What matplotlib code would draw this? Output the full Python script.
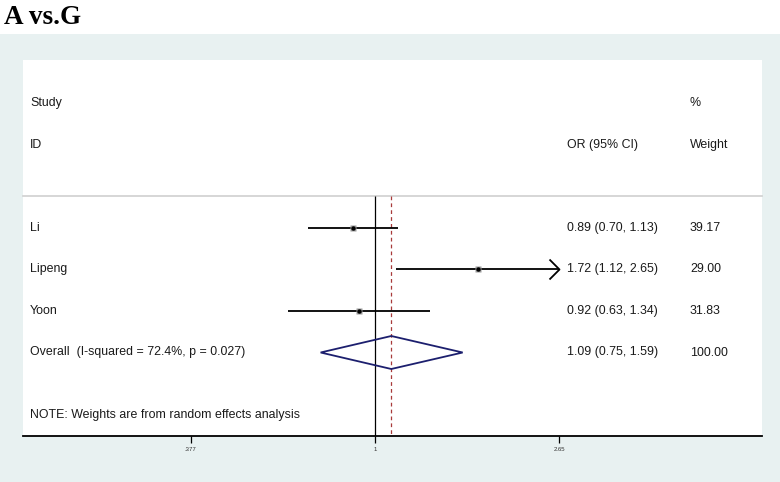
import numpy as np
import matplotlib
matplotlib.use("Agg")
import matplotlib.pyplot as plt
from matplotlib.patches import Polygon, Rectangle
from matplotlib.path import Path
import matplotlib.transforms as mtransforms

# ---------------- data ----------------
studies = ["Li", "Lipeng", "Yoon"]
or_est = [0.89, 1.72, 0.92]
ci_low = [0.70, 1.12, 0.63]
ci_high = [1.13, 2.65, 1.34]
weights = ["39.17", "29.00", "31.83"]
overall_est = 1.09
overall_low = 0.75
overall_high = 1.59
overall_label = "Overall  (I-squared = 72.4%, p = 0.027)"
overall_weight = "100.00"
tick_values = [0.377, 1, 2.65]
tick_labels = [".377", "1", "2.65"]
title = "A vs.G"

# ---------------- figure ----------------
W, H = 780, 482
fig = plt.figure(figsize=(W / 100, H / 100), dpi=100)
fig.patch.set_facecolor("white")
bg = Rectangle((0, 0), 1, (H - 34) / H, transform=fig.transFigure,
               facecolor="#e8f1f1", edgecolor="none", zorder=-10)
fig.patches.append(bg)

fig.text(4 / W, 1 - 23.5 / H, title, fontsize=19.5, fontweight="bold",
         family="Liberation Serif", va="baseline", ha="left")

left, right, top, bottom = 23, 762, 60, 436
ax = fig.add_axes([left / W, (H - bottom) / H, (right - left) / W, (bottom - top) / H])
ax.set_zorder(1)
ax.set_facecolor("white")
ax.set_xscale("log")
px_per_ln = (559.3 - 190.7) / (np.log(2.65) - np.log(0.377))
ax.set_xlim(np.exp((left - 375) / px_per_ln), np.exp((right - 375) / px_per_ln))
row_px = 41.5
y0 = 228
ax.set_ylim((bottom - y0) / row_px, (top - y0) / row_px)
for s in ["top", "left", "right"]:
    ax.spines[s].set_visible(False)
ax.spines["bottom"].set_linewidth(1.3)
ax.set_yticks([])
ax.set_xticks(tick_values)
ax.set_xticklabels(tick_labels)
ax.xaxis.set_minor_locator(matplotlib.ticker.NullLocator())
ax.tick_params(axis="x", length=5, width=0.9, labelsize=4.3, pad=3, colors="black")
for lab in ax.get_xticklabels():
    lab.set_family("Liberation Sans")
    lab.set_color("#333333")

font = dict(family="Liberation Sans", fontsize=8.9, color="#1a1a1a")
tr = mtransforms.blended_transform_factory(ax.transAxes, ax.transData)
xl, xc, xw = (30 - left) / (right - left), (567 - left) / (right - left), (690 - left) / (right - left)

sep_y = (196 - y0) / row_px
ymax = ax.get_ylim()[0]
# header
ax.text(xl, -3, "Study", transform=tr, va="center", ha="left", **font)
ax.text(xl, -2, "ID", transform=tr, va="center", ha="left", **font)
ax.text(xc, -2, "OR (95% CI)", transform=tr, va="center", ha="left", **font)
ax.text(xw, -3, "%", transform=tr, va="center", ha="left", **font)
ax.text(xw, -2, "Weight", transform=tr, va="center", ha="left", **font)
ax.plot([0, 1], [sep_y, sep_y], transform=tr, color="#cfcfcf", lw=1.2, clip_on=False)

# reference lines
ax.vlines(1, sep_y, ymax, color="black", lw=0.9, zorder=2)
ax.vlines(overall_est, sep_y, ymax, color="#a83a3a", lw=0.9,
          linestyles=(0, (3, 2.5)), zorder=2)

chevron = Path([(-1, 1), (0, 0), (-1, -1)], [Path.MOVETO, Path.LINETO, Path.LINETO])
xmax_tick = max(tick_values)
for i, (name, e, lo, hi, w) in enumerate(zip(studies, or_est, ci_low, ci_high, weights)):
    ax.plot([lo, hi], [i, i], color="black", lw=1.3, zorder=3, solid_capstyle="butt")
    if hi >= xmax_tick:
        ax.plot([hi], [i], marker=chevron, markersize=14.4, color="black",
                markerfacecolor="none", markeredgewidth=1.3, zorder=3)
    ax.plot([e], [i], marker="s", markersize=4.5, color="#9a9a9a", mec="none", zorder=4)
    ax.plot([e], [i], marker="o", markersize=3.2, color="black", mec="none", zorder=5)
    ax.text(xl, i, name, transform=tr, va="center", ha="left", **font)
    ax.text(xc, i, f"{e:.2f} ({lo:.2f}, {hi:.2f})", transform=tr, va="center", ha="left", **font)
    ax.text(xw, i, w, transform=tr, va="center", ha="left", **font)

yo = len(studies)
h = 16.5 / row_px
diamond = Polygon([(overall_low, yo), (overall_est, yo - h), (overall_high, yo),
                   (overall_est, yo + h)], closed=True, fill=False,
                  edgecolor="#1c1f6e", lw=1.3, zorder=4)
ax.add_patch(diamond)
ax.text(xl, yo, overall_label, transform=tr, va="center", ha="left", **font)
ax.text(xc, yo, f"{overall_est:.2f} ({overall_low:.2f}, {overall_high:.2f})",
        transform=tr, va="center", ha="left", **font)
ax.text(xw, yo, overall_weight, transform=tr, va="center", ha="left", **font)

ax.text(xl, yo + 1.5, "NOTE: Weights are from random effects analysis", transform=tr,
        va="center", ha="left", **font)

fig.savefig("out.png", dpi=100, facecolor=fig.get_facecolor())
